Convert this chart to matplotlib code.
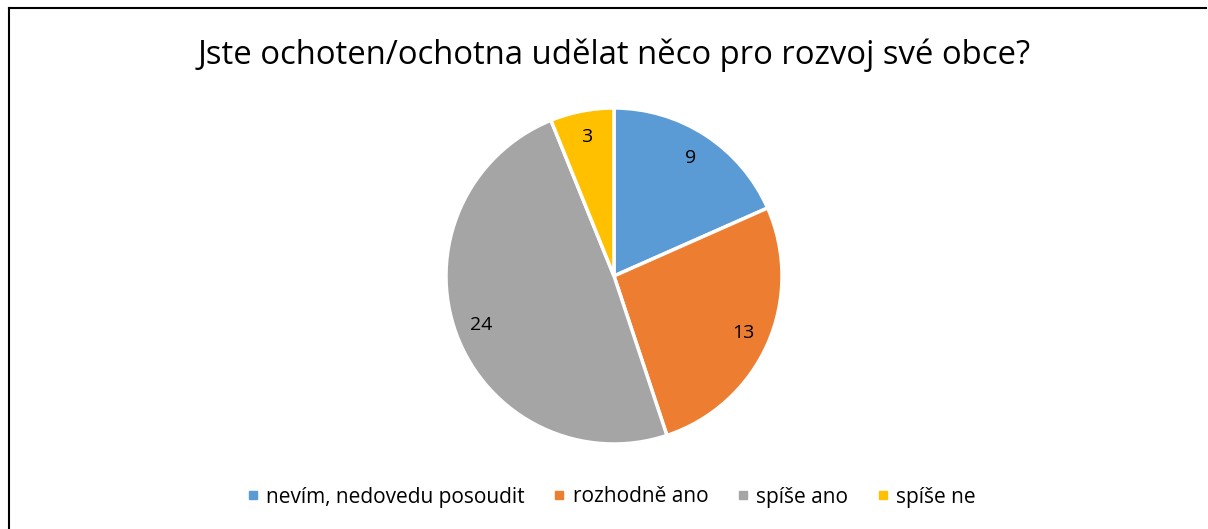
import matplotlib
matplotlib.use("Agg")
import matplotlib.pyplot as plt
from matplotlib.lines import Line2D

plt.rcParams['font.family'] = ['Open Sans', 'DejaVu Sans']

title = "Jste ochoten/ochotna udělat něco pro rozvoj své obce?"
categories = ["nevím, nedovedu posoudit", "rozhodně ano", "spíše ano", "spíše ne"]
values = [9, 13, 24, 3]
colors = ["#5B9BD5", "#ED7D31", "#A5A5A5", "#FFC000"]

W, H = 1208, 529
fig = plt.figure(figsize=(W / 100, H / 100), dpi=100)
fig.patch.set_facecolor("white")

cx, cy, r = 614, 276, 168
ax = fig.add_axes([(cx - r) / W, (H - cy - r) / H, 2 * r / W, 2 * r / H])
wedges, texts, autotexts = ax.pie(
    values, colors=colors, startangle=90, counterclock=False,
    autopct=lambda p: f"{round(p * sum(values) / 100):d}", pctdistance=0.84,
    wedgeprops=dict(edgecolor="white", linewidth=2.5),
    textprops=dict(fontsize=14, color="#000000"),
)
ax.set_xlim(-1.0, 1.0)
ax.set_ylim(-1.0, 1.0)
ax.set_aspect("equal")
ax.axis("off")
for w in wedges:
    w.set_clip_on(False)

fig.text(cx / W, 1 - 55 / H, title, ha="center", va="center", fontsize=23.7, color="#000000")

handles = [Line2D([0], [0], marker="s", linestyle="none", markersize=6,
                  markerfacecolor=c, markeredgecolor=c) for c in colors]
fig.legend(handles, categories, loc="center", bbox_to_anchor=(611 / W, 1 - 497 / H),
           ncol=4, frameon=False, fontsize=15, handlelength=0.6, handletextpad=0.35,
           columnspacing=1.35)

# chart frame (cropped on right/bottom)
fig.add_artist(Line2D([9 / W, 9 / W], [0, 1 - 8 / H], color="black", linewidth=1.5,
                      transform=fig.transFigure))
fig.add_artist(Line2D([9 / W, 1206 / W], [1 - 8 / H, 1 - 8 / H], color="black", linewidth=1.5,
                      transform=fig.transFigure))

fig.savefig("out.png", dpi=100)
